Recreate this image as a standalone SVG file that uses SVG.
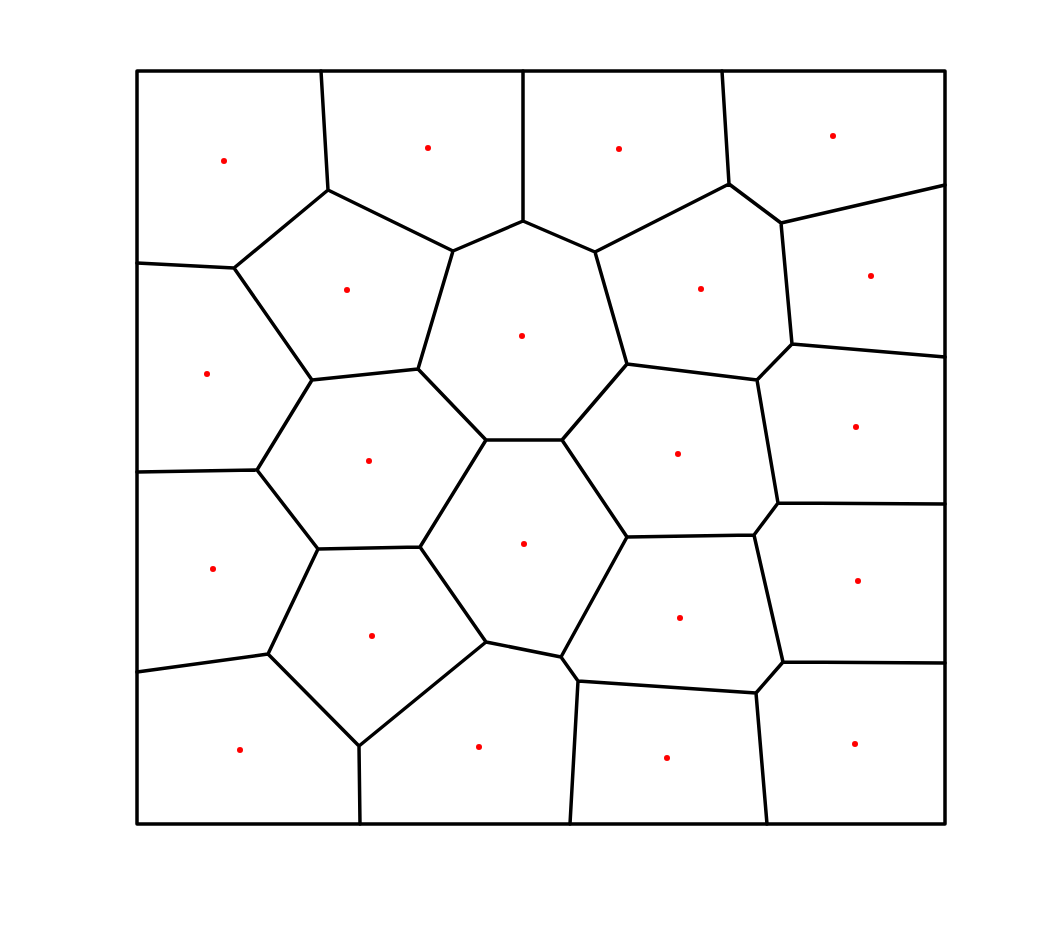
<svg xmlns="http://www.w3.org/2000/svg" width="1046" height="927" viewBox="0 0 1046 927">
<style>
.e{stroke:#000;stroke-width:3.5;fill:none;stroke-linecap:round;stroke-linejoin:round}
.s{fill:#f00}
</style>
<rect width="1046" height="927" fill="#fff"/>
<g id="edges" class="e">
<rect x="137" y="71" width="808" height="753"/>
<path d="M321,71L328,190M523,71L523,221M722,71L729,184M945,185L781,223M729,184L781,223
M328,190L453,251L523,221L595,252L729,184M328,190L234,268M137,263L234,268M234,268L312,380
M453,251L418,369M312,380L418,369M595,252L627,364M781,223L792,344M792,344L757,380M792,344L945,357
M627,364L757,380M757,380L778,503M778,503L945,504M418,369L486,440M627,364L562,440M486,440L562,440
M312,380L257,470M137,472L257,470M257,470L318,549M318,549L420,547M420,547L486,440M562,440L627,537
M627,537L754,535M754,535L778,503M754,535L783,662M783,662L945,663M783,662L756,693
M318,549L268,654M137,672L268,654M268,654L359,746M420,547L486,642M359,746L486,642M486,642L561,657
M627,537L561,657M561,657L578,681M578,681L756,693M578,681L570,824M756,693L767,824M359,746L360,824"/>
</g>
<g id="sites" class="s">
<circle cx="224" cy="161" r="3"/><circle cx="428" cy="148" r="3"/><circle cx="619" cy="149" r="3"/><circle cx="833" cy="136" r="3"/>
<circle cx="347" cy="290" r="3"/><circle cx="522" cy="336" r="3"/><circle cx="701" cy="289" r="3"/><circle cx="871" cy="276" r="3"/>
<circle cx="207" cy="374" r="3"/><circle cx="369" cy="461" r="3"/><circle cx="678" cy="454" r="3"/><circle cx="856" cy="427" r="3"/>
<circle cx="213" cy="569" r="3"/><circle cx="524" cy="544" r="3"/><circle cx="680" cy="618" r="3"/><circle cx="858" cy="581" r="3"/>
<circle cx="372" cy="636" r="3"/><circle cx="240" cy="750" r="3"/><circle cx="479" cy="747" r="3"/><circle cx="667" cy="758" r="3"/><circle cx="855" cy="744" r="3"/>
</g>
</svg>
